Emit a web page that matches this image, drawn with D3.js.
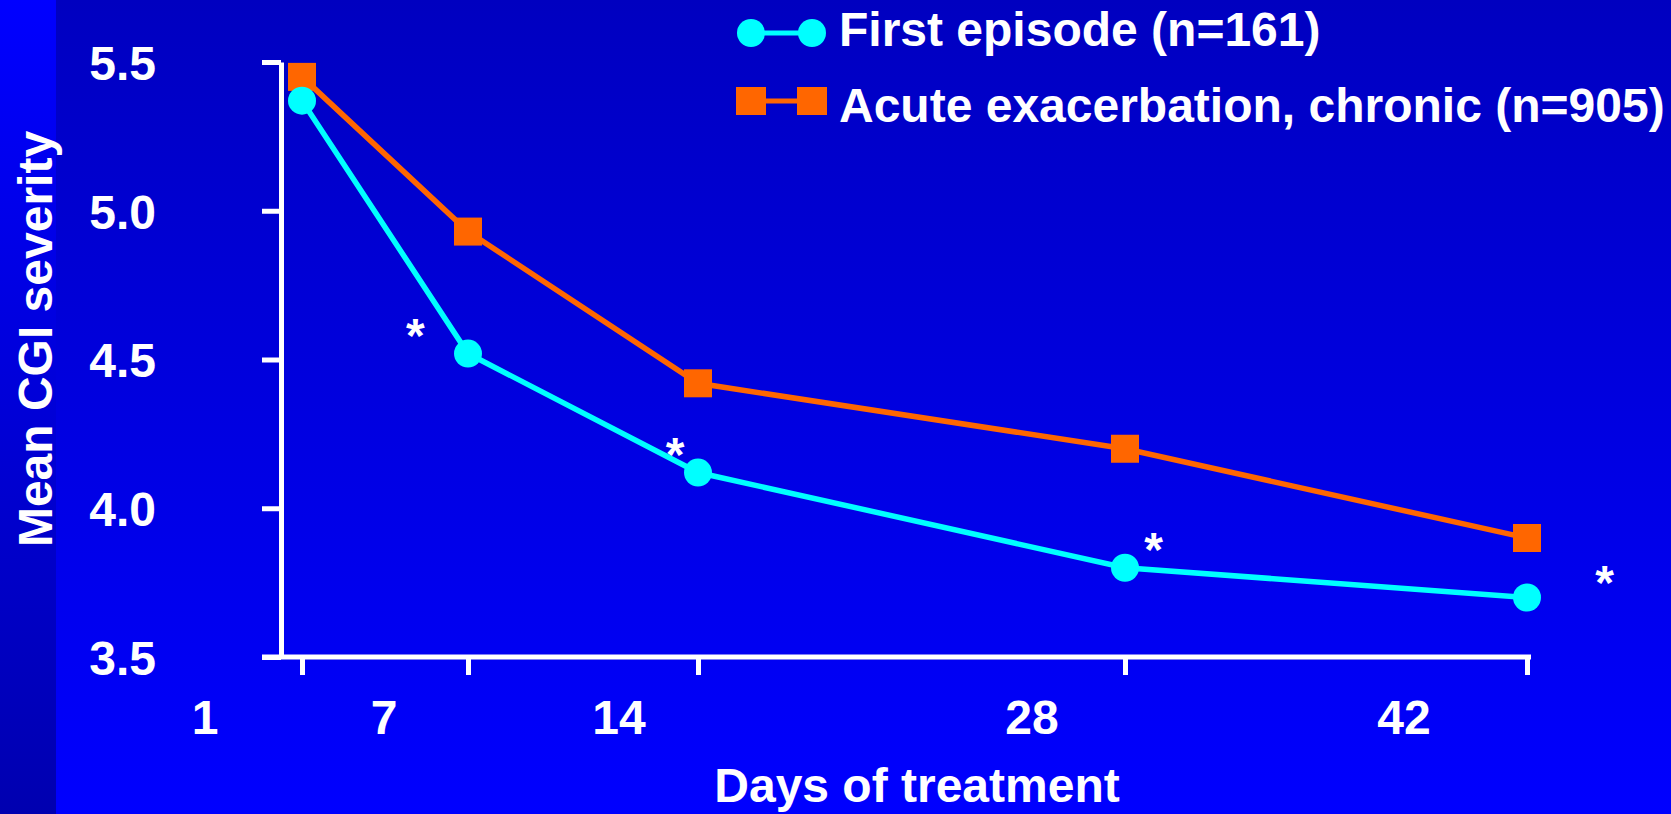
<!DOCTYPE html>
<html>
<head>
<meta charset="utf-8">
<script src="https://cdn.jsdelivr.net/npm/d3@7"></script>
<style>
  html, body { margin: 0; padding: 0; overflow: hidden; background: #0000ff; }
  svg text { font-family: "Liberation Sans", Arial, sans-serif; font-weight: bold; fill: #ffffff; }
</style>
</head>
<body>
<div id="chart"></div>
<script>
// values
var days = [1, 7, 14, 28, 42];
var dayLabels = ["1", "7", "14", "28", "42"];
var firstEpisode = [5.37, 4.52, 4.12, 3.80, 3.70];
var acuteChronic = [5.45, 4.93, 4.42, 4.20, 3.90];
var yTicks = [3.5, 4.0, 4.5, 5.0, 5.5];
// significance stars, in data coordinates
var starDays = [5.1, 13.3, 29.0, 44.7];
var starValues = [4.62, 4.22, 3.90, 3.79];
var seriesNames = ["First episode (n=161)", "Acute exacerbation, chronic (n=905)"];

function init() {
    var w = 1671;
    var h = 814;
    var cyan = "#00ffff";
    var orange = "#ff6600";

    var svg = d3.select("#chart")
        .append("svg")
        .attr("width", w)
        .attr("height", h);

    // background gradients
    var defs = svg.append("defs");
    var bg = defs.append("linearGradient")
        .attr("id", "bg").attr("x1", 0).attr("y1", 0).attr("x2", 0).attr("y2", 1);
    bg.append("stop").attr("offset", "0%").attr("stop-color", "#0000c0");
    bg.append("stop").attr("offset", "100%").attr("stop-color", "#0000ff");
    var strip = defs.append("linearGradient")
        .attr("id", "strip").attr("x1", 0).attr("y1", 0).attr("x2", 0).attr("y2", 1);
    strip.append("stop").attr("offset", "0%").attr("stop-color", "#0000ff");
    strip.append("stop").attr("offset", "100%").attr("stop-color", "#0000b0");

    svg.append("rect").attr("width", w).attr("height", h).attr("fill", "url(#bg)");
    svg.append("rect").attr("width", 56).attr("height", h).attr("fill", "url(#strip)");

    // the slide spaces the visits unevenly, so the x scale is piecewise
    var xScale = d3.scaleLinear()
        .domain(days)
        .range([302, 468, 698, 1125, 1527]);

    // tick labels sit left of their ticks on the original
    var labelScale = d3.scaleLinear()
        .domain(days)
        .range([205, 384, 619, 1032, 1404]);

    var yScale = d3.scaleLinear()
        .domain([3.5, 5.5])
        .range([657, 62]);

    // y axis
    var yAxis = d3.axisLeft(yScale)
        .tickValues(yTicks)
        .tickSize(19)
        .tickSizeOuter(0)
        .tickPadding(106)
        .tickFormat(d3.format(".1f"));

    var gy = svg.append("g")
        .attr("transform", "translate(281,0)")
        .call(yAxis);
    gy.selectAll("path, line").attr("stroke", "#fff").attr("stroke-width", 5);
    gy.selectAll("text")
        .attr("dy", "0.36em")
        .style("font-size", "48px")
        .style("font-family", null);

    // x axis: ticks only, labels placed separately
    var xAxis = d3.axisBottom(xScale)
        .tickValues(days)
        .tickSize(18)
        .tickFormat("");

    var gx = svg.append("g")
        .attr("transform", "translate(0,657)")
        .call(xAxis);
    gx.select(".domain").remove();
    gx.selectAll("line").attr("stroke", "#fff").attr("stroke-width", 5);
    gx.append("line")
        .attr("x1", 262).attr("x2", 1531)
        .attr("stroke", "#fff").attr("stroke-width", 5);

    svg.selectAll(".x-label")
        .data(days)
        .enter()
        .append("text")
        .attr("class", "x-label")
        .attr("x", function(d) { return labelScale(d); })
        .attr("y", 734)
        .attr("text-anchor", "middle")
        .style("font-size", "48px")
        .text(function(d, i) { return dayLabels[i]; });

    // axis titles
    svg.append("text")
        .attr("transform", "translate(52,339) rotate(-90)")
        .attr("text-anchor", "middle")
        .style("font-size", "48px")
        .text("Mean CGI severity");

    svg.append("text")
        .attr("x", 917)
        .attr("y", 802)
        .attr("text-anchor", "middle")
        .style("font-size", "48px")
        .text("Days of treatment");

    // lines
    var line = d3.line()
        .x(function(d, i) { return xScale(days[i]); })
        .y(function(d) { return yScale(d); });

    svg.append("path")
        .datum(acuteChronic)
        .attr("d", line)
        .attr("fill", "none")
        .attr("stroke", orange)
        .attr("stroke-width", 5.5);

    svg.append("path")
        .datum(firstEpisode)
        .attr("d", line)
        .attr("fill", "none")
        .attr("stroke", cyan)
        .attr("stroke-width", 5.5);

    svg.selectAll(".sq")
        .data(acuteChronic)
        .enter()
        .append("rect")
        .attr("class", "sq")
        .attr("x", function(d, i) { return xScale(days[i]) - 14; })
        .attr("y", function(d) { return yScale(d) - 14; })
        .attr("width", 28)
        .attr("height", 28)
        .attr("fill", orange);

    svg.selectAll(".dot")
        .data(firstEpisode)
        .enter()
        .append("circle")
        .attr("class", "dot")
        .attr("cx", function(d, i) { return xScale(days[i]); })
        .attr("cy", function(d) { return yScale(d); })
        .attr("r", 14)
        .attr("fill", cyan);

    // stars
    svg.selectAll(".star")
        .data(starValues)
        .enter()
        .append("text")
        .attr("class", "star")
        .attr("x", function(d, i) { return xScale(starDays[i]); })
        .attr("y", function(d) { return yScale(d) + 28; })
        .attr("text-anchor", "middle")
        .style("font-size", "48px")
        .text("*");

    // legend
    var legend = svg.append("g");
    var rows = [{ y: 33, base: 46, color: cyan, shape: "circle" },
                { y: 101, base: 122, color: orange, shape: "square" }];

    rows.forEach(function(r, i) {
        legend.append("line")
            .attr("x1", 751).attr("x2", 812)
            .attr("y1", r.y).attr("y2", r.y)
            .attr("stroke", r.color).attr("stroke-width", 5);
        [751, 812].forEach(function(cx) {
            if (r.shape === "circle") {
                legend.append("circle")
                    .attr("cx", cx).attr("cy", r.y).attr("r", 14)
                    .attr("fill", r.color);
            } else {
                legend.append("rect")
                    .attr("x", cx - 15).attr("y", r.y - 14)
                    .attr("width", 30).attr("height", 28)
                    .attr("fill", r.color);
            }
        });
        legend.append("text")
            .attr("x", 839)
            .attr("y", r.base)
            .style("font-size", "48px")
            .text(seriesNames[i]);
    });
}

window.onload = init;
</script>
</body>
</html>
